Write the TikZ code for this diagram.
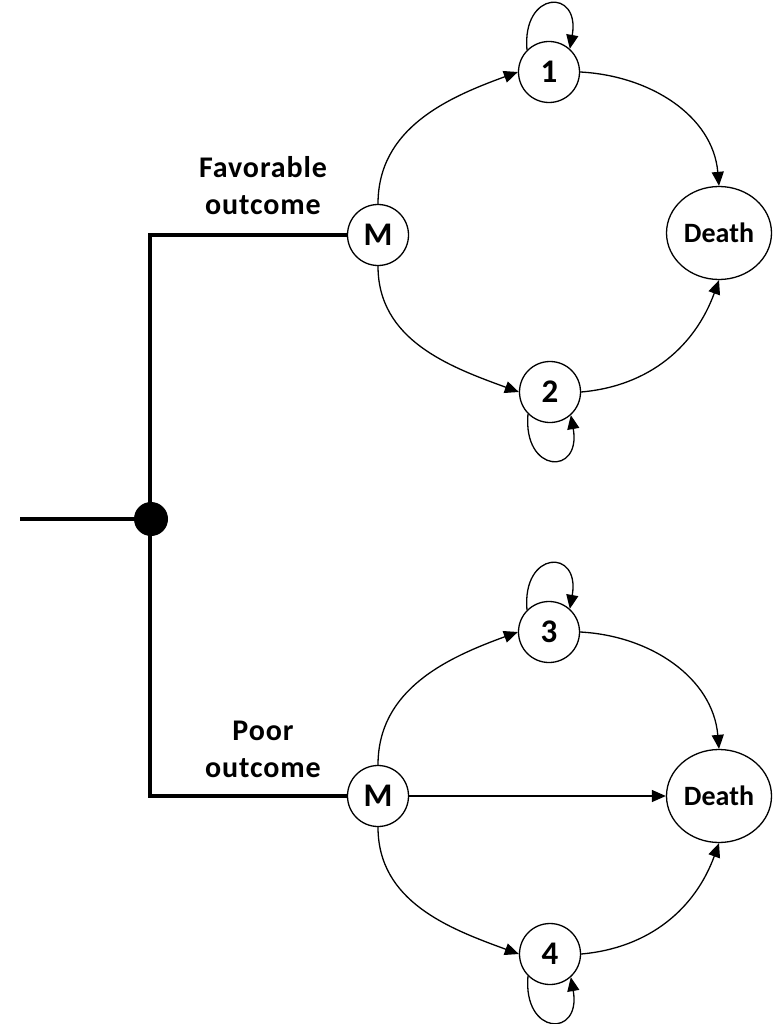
\documentclass[tikz,border=0pt]{standalone}
\usepackage{fontspec}
\setmainfont{Carlito}
\newfontfamily\labfont[LetterSpace=3]{Carlito}
\usetikzlibrary{arrows.meta,shapes.geometric}
\tikzset{
  st/.style={circle,draw,line width=1.3pt,minimum size=61pt,inner sep=0pt,font=\fontsize{33}{34}\selectfont\bfseries},
  dth/.style={ellipse,draw,line width=1.3pt,minimum width=105pt,minimum height=93pt,inner sep=0pt,font=\fontsize{28}{30}\selectfont\bfseries},
  arr/.style={line width=1.3pt,-{Triangle[length=14pt,width=12pt]}},
  thick line/.style={line width=4.5pt},
  lab/.style={align=center,inner sep=0pt,font=\labfont\fontsize{30}{37}\selectfont\bfseries}
}
\begin{document}
\begin{tikzpicture}[x=1pt,y=1pt]
\useasboundingbox (0,0) rectangle (782,-1024);
% upper
\node[st] (m1) at (378,-235) {M};
\node[st] (n1) at (549,-72) {1};
\node[st] (n2) at (550,-392) {2};
\node[dth] (d1) at (719,-233) {Death};
% lower
\node[st] (m2) at (378,-796) {M};
\node[st] (n3) at (549,-632) {3};
\node[st] (n4) at (550,-954) {4};
\node[dth] (d2) at (719,-796) {Death};
% tree
\node[circle,fill,minimum size=34pt,inner sep=0pt] (j) at (151,-519) {};
\coordinate (start) at (20,-519);
\coordinate (tl) at (150,-235);
\coordinate (bl) at (150,-796);
\draw[thick line] (start) -- (j.center);
\draw[thick line,line join=miter] (m1.west) -- (tl) -- (bl) -- (m2.west);
\node[lab] (l1) at (263,-186) {Favorable\\outcome};
\node[lab] (l2) at (263,-749) {Poor\\outcome};
% upper arcs
\draw[arr] (m1.north) to[out=90,in=200] (n1.west);
\draw[arr] (n1.east) to[out=-3,in=95] (d1.north);
\draw[arr] (m1.south) to[out=-90,in=160] (n2.west);
\draw[arr] (n2.east) to[out=5,in=-110] (d1.south);
\draw[arr] (n1.135) .. controls +(95:60) and +(80:62) .. (n1.48);
\draw[arr] (n2.-135) .. controls +(-95:60) and +(-80:62) .. (n2.-48);
% lower arcs
\draw[arr] (m2.north) to[out=90,in=200] (n3.west);
\draw[arr] (n3.east) to[out=-3,in=95] (d2.north);
\draw[arr] (m2.south) to[out=-90,in=160] (n4.west);
\draw[arr] (n4.east) to[out=5,in=-110] (d2.south);
\draw[arr] (m2.east) -- (d2.west);
\draw[arr] (n3.135) .. controls +(95:60) and +(80:62) .. (n3.48);
\draw[arr] (n4.-135) .. controls +(-95:60) and +(-80:62) .. (n4.-48);
\end{tikzpicture}
\end{document}
